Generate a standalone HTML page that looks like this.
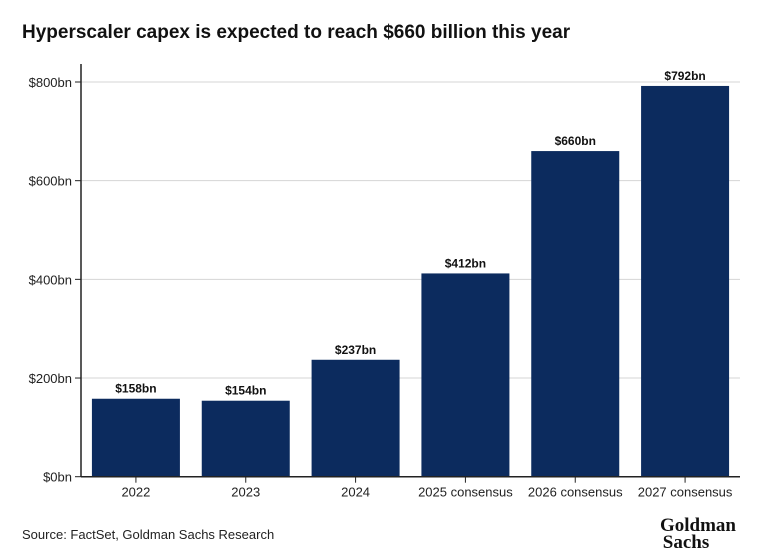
<!DOCTYPE html>
<html><head><meta charset="utf-8"><style>
body{margin:0;background:#fff;font-family:"Liberation Sans",sans-serif;}
#wrap{position:relative;width:766px;height:560px;overflow:hidden;}
</style></head><body>
<div id="wrap">
<svg id="chart" width="766" height="560">
<text x="22" y="38" font-size="19" font-weight="bold" fill="#111">Hyperscaler capex is expected to reach $660 billion this year</text>
<g id="grid"></g><g id="bars"></g><g id="axes"></g>
<text x="22" y="539" font-size="13" fill="#222">Source: FactSet, Goldman Sachs Research</text>
<text x="698" y="531" font-size="19" font-weight="bold" font-family="Liberation Serif, serif" text-anchor="middle" fill="#111">Goldman</text>
<text x="686" y="548" font-size="19" font-weight="bold" font-family="Liberation Serif, serif" text-anchor="middle" fill="#111">Sachs</text>
</svg></div>
<script>
const categories=["2022","2023","2024","2025 consensus","2026 consensus","2027 consensus"];
const values=[158,154,237,412,660,792];
const labels=["$158bn","$154bn","$237bn","$412bn","$660bn","$792bn"];
const ticks=[0,200,400,600,800];
const tickLabels=["$0bn","$200bn","$400bn","$600bn","$800bn"];
const NS="http://www.w3.org/2000/svg";
const x0=81,x1=740,y0=476.7,yTop=82;
const y=v=>y0-(v/800)*(y0-yTop);
const band=(x1-x0)/categories.length;
const bx=i=>x0+band*i+band/2;
function mk(tag,attrs,parent){const e=document.createElementNS(NS,tag);for(const k in attrs)e.setAttribute(k,attrs[k]);document.getElementById(parent).appendChild(e);return e;}
ticks.forEach((t,i)=>{
  if(t>0){const g=mk('line',{x1:x0,x2:x1,y1:y(t),y2:y(t),stroke:'#d4d4d4','stroke-width':1},'grid');
  
  }
  const tk=mk('line',{x1:x0-6,x2:x0,y1:y(t),y2:y(t),stroke:'#222'},'axes');
  
  
  const tl=mk('text',{x:x0-9,y:y(t)+5,'font-size':13,'text-anchor':'end',fill:'#222'},'axes');
  tl.textContent=tickLabels[i];
  
  
});
const bw=88;
values.forEach((v,i)=>{
  const r=mk('rect',{x:bx(i)-bw/2,y:y(v),width:bw,height:y0-y(v),fill:'#0c2b5e'},'bars');
  
  
  const l=mk('text',{x:bx(i),y:y(v)-6,'font-size':12,'font-weight':'bold','text-anchor':'middle',fill:'#111'},'bars');
  l.textContent=labels[i];
  
  
  const tk=mk('line',{x1:bx(i),x2:bx(i),y1:y0,y2:y0+6,stroke:'#222'},'axes');
  
  
  const c=mk('text',{x:bx(i),y:y0+20,'font-size':13,'text-anchor':'middle',fill:'#222'},'axes');
  c.textContent=categories[i];
  
  
});
const ya=mk('line',{x1:x0,x2:x0,y1:64,y2:y0,stroke:'#222','stroke-width':1.5},'axes');


const xa=mk('line',{x1:x0,x2:x1,y1:y0,y2:y0,stroke:'#222','stroke-width':1.5},'axes');


</script>
</body></html>
